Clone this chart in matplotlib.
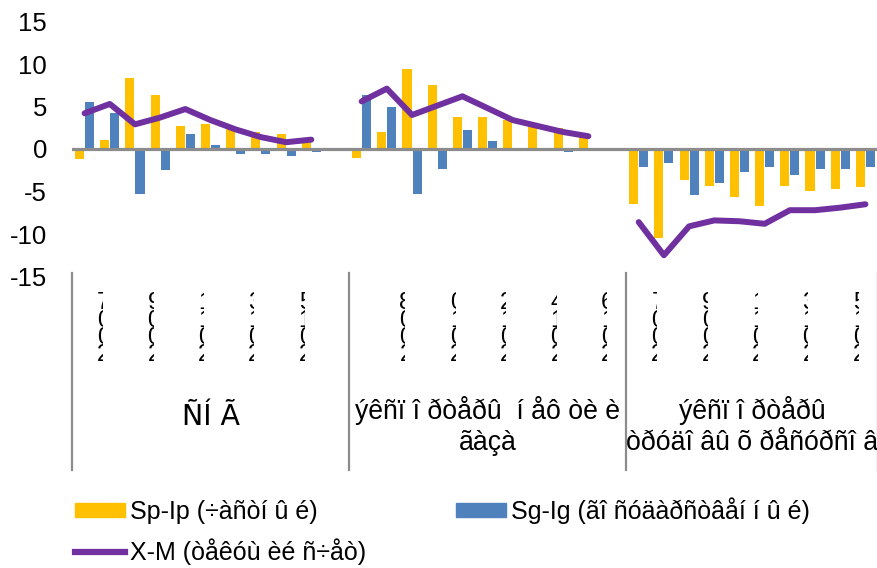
import matplotlib
matplotlib.use("Agg")
import matplotlib.pyplot as plt
import matplotlib.transforms as mtrans
from matplotlib.patches import Patch, Rectangle
from matplotlib.lines import Line2D
import numpy as np

years = [str(y) for y in range(2007, 2017)]
groups = ["ÑÍ Ã",
          "ýêñï î ðòåðû  í åô òè è\nãàçà",
          "ýêñï î ðòåðû\nòðóäî âû õ ðåñóðñî â"]

# Sp-Ip, per group, 2007..2016
sp_ip = [[-1.2, 1.1, 8.4, 6.4, 2.7, 2.9, 2.5, 2.0, 1.8, 1.2],
         [-1.0, 2.0, 9.4, 7.5, 3.8, 3.8, 3.4, 2.8, 2.5, 1.6],
         [-6.5, -10.5, -3.6, -4.3, -5.6, -6.7, -4.3, -4.9, -4.7, -4.5]]
# Sg-Ig
sg_ig = [[5.5, 4.2, -5.3, -2.5, 1.8, 0.5, -0.6, -0.6, -0.8, -0.4],
         [6.3, 5.0, -5.3, -2.3, 2.2, 0.9, 0.0, 0.0, -0.3, 0.0],
         [-2.1, -1.7, -5.4, -4.0, -2.75, -2.1, -3.0, -2.3, -2.3, -2.1]]
# X-M
x_m = [[4.2, 5.3, 2.9, 3.7, 4.7, 3.4, 2.3, 1.4, 0.8, 1.1],
       [5.6, 7.1, 4.0, 5.1, 6.2, 4.8, 3.4, 2.7, 2.0, 1.5],
       [-8.6, -12.5, -9.1, -8.4, -8.5, -8.8, -7.2, -7.2, -6.9, -6.5]]

legend_labels = ["Sp-Ip (÷àñòí û é)",
                 "Sg-Ig (ãî ñóäàðñòâåí í û é)",
                 "X-M (òåêóù èé ñ÷åò)"]

YELLOW = "#FFC000"
BLUE = "#4F81BD"
PURPLE = "#7030A0"
GRAY = "#8C8C8C"

plt.rcParams["font.family"] = ["Liberation Sans", "DejaVu Sans"]
plt.rcParams["axes.unicode_minus"] = False

fig = plt.figure(figsize=(8.78, 5.68), dpi=100)
ax = fig.add_axes([72 / 878, (568 - 276.5) / 568, (878 - 72) / 878, 255 / 568])

# every group takes 11 slots on the category axis (last one left empty)
slot = 11
n_slots = slot * (len(groups) - 1) + len(years)
pos, sp_all, sg_all = [], [], []
line_x, line_y = [], []
for g in range(len(groups)):
    for k in range(len(years)):
        p = g * slot + k
        pos.append(p)
        sp_all.append(sp_ip[g][k])
        sg_all.append(sg_ig[g][k])
        line_x.append(p)
        line_y.append(x_m[g][k])
    line_x.append(np.nan)
    line_y.append(np.nan)
pos = np.array(pos)

ax.bar(pos - 0.2, sp_all, width=0.36, color=YELLOW, zorder=2)
ax.bar(pos + 0.2, sg_all, width=0.36, color=BLUE, zorder=2)
ax.axhline(0, color=GRAY, lw=2.3, zorder=3)
ax.plot(line_x, line_y, color=PURPLE, lw=4.3, zorder=4,
        solid_capstyle="round", solid_joinstyle="round")

ax.set_xlim(-0.5, n_slots - 0.5)
ax.set_ylim(-15, 15)
ax.set_yticks(range(-15, 16, 5))
ax.tick_params(axis="y", length=0, pad=18, labelsize=18.5, labelcolor="#000000")
ax.set_xticks([])
for s in ax.spines.values():
    s.set_visible(False)

trans = mtrans.blended_transform_factory(ax.transData, ax.transAxes)

# group separators under the plot
for b in [-0.5, slot - 0.5, 2 * slot - 0.5, n_slots - 0.5]:
    ax.plot([b, b], [0.015, -0.76], color=GRAY, lw=1.6, transform=trans,
            clip_on=False)

# year labels on every second slot: digits stacked upwards, cut to a thin strip
clip_w = 0.24
for g in range(len(groups)):
    for k in range(len(years)):
        p = g * slot + k
        if p % 2:
            continue
        xt = p + 0.5
        t = ax.text(xt, -0.062, "\n".join(years[k][::-1]), transform=trans,
                    ha="left", va="top", fontsize=17, linespacing=0.72,
                    color="#000000", clip_on=True)
        box = Rectangle((xt, -0.4), clip_w, 0.5, transform=trans)
        t.set_clip_path(box)

# group names
for g, name in enumerate(groups):
    cx = g * slot + (min(slot, n_slots - g * slot) - 1) / 2
    if g == 0:
        fam, fs, ty = ["DejaVu Sans"], 20.5, -0.495
    else:
        fam, fs, ty = ["Liberation Sans", "DejaVu Sans"], 19.2, -0.47
    ax.text(cx, ty, name, transform=trans, ha="center", va="top",
            multialignment="center", fontsize=fs, family=fam,
            linespacing=1.25, color="#000000")

handles = [Patch(color=YELLOW), Line2D([], [], color=PURPLE, lw=4.5),
           Patch(color=BLUE)]
labels = [legend_labels[0], legend_labels[2], legend_labels[1]]
fig.legend(handles, labels, loc="upper left",
           bbox_to_anchor=(75 / 878, 1 - 497 / 568), ncol=2, frameon=False,
           borderpad=0, borderaxespad=0, handlelength=2.0, handleheight=0.5,
           handletextpad=0.2, columnspacing=3.6, labelspacing=0.6,
           prop={"size": 18})

fig.savefig("out.png", dpi=100)
